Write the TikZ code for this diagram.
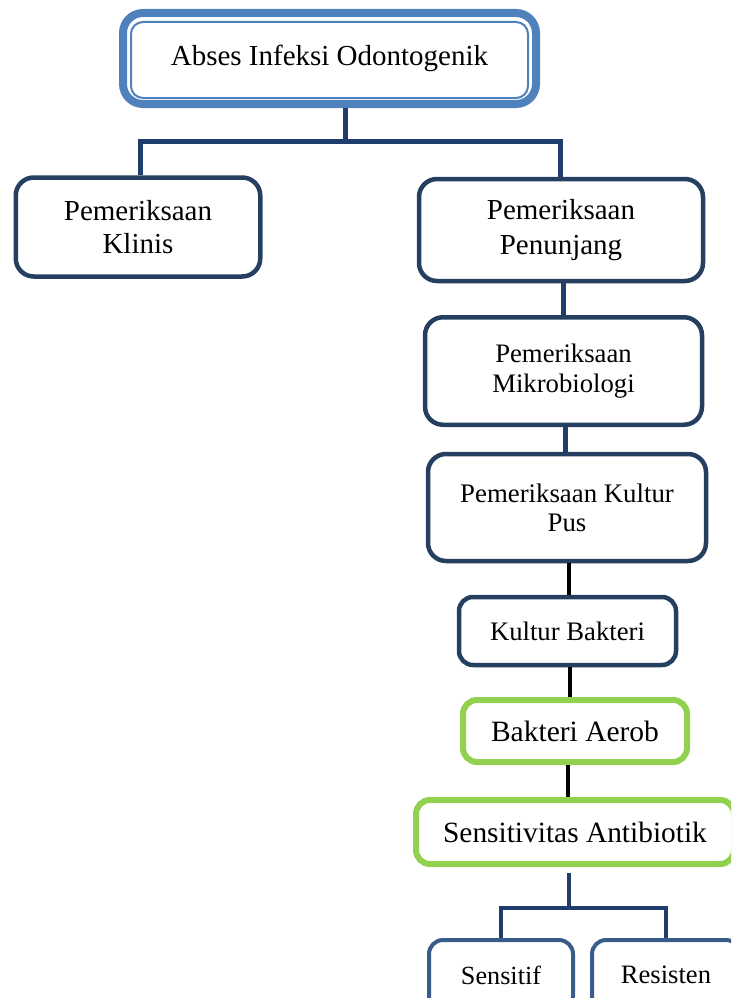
\documentclass[tikz,border=0pt]{standalone}
\usepackage{fontspec}
\setmainfont{Liberation Serif}
\definecolor{topblue}{RGB}{79,129,189}
\definecolor{boxline}{RGB}{36,63,96}
\definecolor{lowline}{RGB}{56,93,138}
\definecolor{linkblue}{RGB}{31,61,109}
\definecolor{leafgreen}{RGB}{146,208,80}
\begin{document}
\begin{tikzpicture}[x=1pt, y=-1pt]
    \tikzstyle{box} = [rectangle, draw=boxline, fill=white, rounded corners=18pt, line width=4.5pt, align=center, inner sep=2pt]
    \tikzstyle{greenbox} = [box, draw=leafgreen, line width=6pt, rounded corners=14pt]
    \tikzstyle{lowbox} = [box, draw=lowline, line width=4pt, rounded corners=14pt]
    \tikzstyle{link} = [line width=5pt, draw=linkblue]
    \tikzstyle{blacklink} = [line width=4.5pt, draw=black]
    \clip (0,0) rectangle (731,998);

    \node [box, draw=topblue, line width=8pt, rounded corners=20pt, minimum width=413pt, minimum height=91pt, font=\fontsize{29}{34}\selectfont] (abses) at (329.5,58.5) {Abses Infeksi Odontogenik};
    \draw [topblue, line width=2pt, rounded corners=12pt] ([shift={(12,13)}]abses.north west) rectangle ([shift={(-12,-10)}]abses.south east);

    \node [box, minimum width=244.5pt, minimum height=99pt, font=\fontsize{29}{33}\selectfont] (klinis) at (138,227) {Pemeriksaan\\Klinis};
    \node [box, minimum width=284pt, minimum height=102pt, font=\fontsize{29}{35}\selectfont] (penunjang) at (561,230) {Pemeriksaan\\Penunjang};
    \node [box, minimum width=277pt, minimum height=107.5pt, font=\fontsize{26.7}{30.7}\selectfont] (mikro) at (563.5,371) {Pemeriksaan\\Mikrobiologi};
    \node [box, minimum width=278pt, minimum height=107pt, font=\fontsize{26.8}{29}\selectfont] (pus) at (567,507.5) {Pemeriksaan Kultur\\Pus};
    \node [box, rounded corners=14pt, minimum width=217pt, minimum height=68pt, font=\fontsize{26.7}{30}\selectfont] (kultur) at (567.5,631) {Kultur Bakteri};
    \node [greenbox, minimum width=224pt, minimum height=62pt, font=\fontsize{29.5}{34}\selectfont] (aerob) at (575,731) {Bakteri Aerob};
    \node [greenbox, minimum width=318pt, minimum height=64pt, font=\fontsize{29.4}{34}\selectfont] (sens) at (575,832) {Sensitivitas Antibiotik};
    \node [lowbox, minimum width=144pt, minimum height=70pt, font=\fontsize{26.2}{30}\selectfont] (sensitif) at (501,975) {Sensitif};
    \node [lowbox, minimum width=148pt, minimum height=70pt, font=\fontsize{26.6}{30}\selectfont] (resisten) at (666,975) {Resisten};

    \draw [link] ([xshift=16]abses.south) -- ++(0,33) coordinate (split);
    \draw [link] ([xshift=2]klinis.north) |- (split) -| ([xshift=-1]penunjang.north);
    \draw [link] ([xshift=2]penunjang.south) -- ([xshift=2]penunjang.south |- mikro.north);
    \draw [link] ([xshift=2]mikro.south) -- ([xshift=2]mikro.south |- pus.north);
    \draw [blacklink] ([xshift=2]pus.south) -- ([xshift=2]pus.south |- kultur.north);
    \draw [blacklink] ([xshift=2.5]kultur.south) -- ([xshift=2.5]kultur.south |- aerob.north);
    \draw [blacklink] ([xshift=-7]aerob.south) -- ([xshift=-7]aerob.south |- sens.north);
    \draw [link, line width=4pt] ([xshift=-6,yshift=-6]sens.south) -- ++(0,35) coordinate (fork);
    \draw [link, line width=4pt] (sensitif.north) |- (fork) -| (resisten.north);
\end{tikzpicture}
\end{document}
